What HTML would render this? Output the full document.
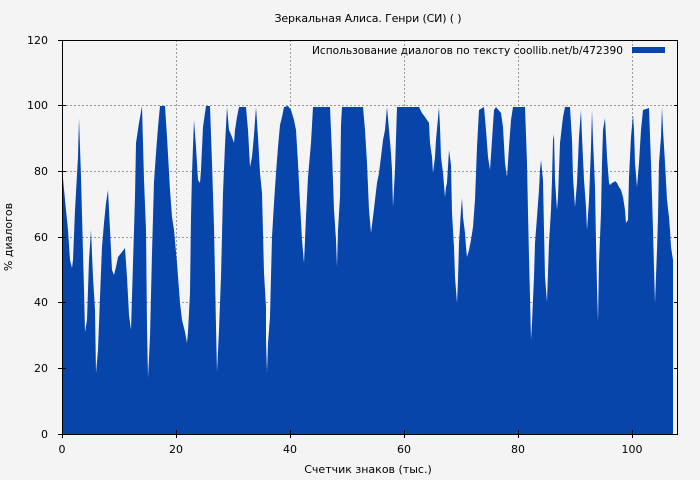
<!DOCTYPE html>
<html><head><meta charset="utf-8"><style>
body{margin:0;background:#f4f4f4;}
svg{display:block;font-family:"DejaVu Sans","Liberation Sans",sans-serif;}
</style></head><body>
<svg width="700" height="480" viewBox="0 0 700 480" xmlns="http://www.w3.org/2000/svg">
<rect width="700" height="480" fill="#f4f4f4"/>
<text x="368" y="22" font-size="11" text-anchor="middle" fill="#000" textLength="187">Зеркальная Алиса. Генри (СИ) ( )</text>
<g stroke="#999" stroke-dasharray="2,2" stroke-width="1">
<line x1="62" y1="105.5" x2="678" y2="105.5"/><line x1="62" y1="171.5" x2="678" y2="171.5"/>
<line x1="62" y1="237.5" x2="678" y2="237.5"/><line x1="62" y1="302.5" x2="678" y2="302.5"/>
<line x1="62" y1="368.5" x2="678" y2="368.5"/>
<line x1="176.5" y1="40" x2="176.5" y2="434"/><line x1="290.5" y1="40" x2="290.5" y2="434"/>
<line x1="404.5" y1="40" x2="404.5" y2="434"/><line x1="518.5" y1="40" x2="518.5" y2="434"/>
<line x1="632.5" y1="40" x2="632.5" y2="434"/>
</g>
<polygon fill="#0745ab" points="62,434 62,168 65,200 68,230 70,260 72,268 73,260 75,210 78,157 79,118 81,177 84,290 85,332 87,320 89,260 91,230 93,277 95,310 96,373 98,350 100,297 102,247 104,223 106,203 108,190 110,230 112,270 114,275 116,267 118,257 122,252 125,248 127,277 129,315 131,330 133,263 135,197 136,143 139,123 142,106 144,180 146,230 147,327 148,378 150,337 152,253 154,182 156,153 158,127 160,106 165,106 167,137 170,190 172,217 174,230 177,263 180,303 182,320 185,332 187,343 188,332 190,293 191,217 192,173 194,120 196,147 198,180 200,183 201,170 203,127 206,106 210,106 212,163 214,227 215,277 216,327 217,372 219,330 221,277 223,193 225,145 227,107 229,130 232,137 234,143 235,130 237,117 239,107 246,107 248,130 250,167 252,157 254,135 256,107 258,137 260,173 262,193 264,273 266,307 266,340 267,373 268,343 270,317 272,237 274,203 276,173 278,147 280,125 282,117 284,107 288,106 291,110 294,120 296,130 298,163 300,203 302,240 304,263 306,217 308,177 311,143 313,107 330,107 332,153 334,210 336,240 337,267 338,230 340,197 341,125 342,107 363,107 365,130 367,163 369,210 371,233 373,217 375,200 377,183 379,173 381,157 383,140 385,130 387,107 389,130 391,153 392,170 393,207 395,170 397,107 419,107 422,113 425,117 429,123 430,143 432,157 433,173 435,157 436,140 439,107 440,127 441,157 443,173 445,197 446,187 447,183 449,150 451,165 452,213 454,247 455,277 457,303 458,280 459,243 461,210 462,198 463,217 465,233 466,247 467,257 469,250 471,240 473,227 475,200 477,147 479,110 484,107 486,130 488,157 490,170 492,140 494,110 496,107 501,113 503,127 505,163 507,177 509,147 511,120 513,107 525,107 527,163 528,213 529,257 530,297 531,340 532,323 534,277 535,243 537,217 539,190 540,170 541,160 543,180 544,230 545,277 547,302 548,273 549,243 551,210 552,180 553,140 554,134 555,180 557,210 558,197 560,143 563,117 565,107 570,107 572,140 573,177 575,207 577,183 579,137 581,110 582,137 584,180 586,207 587,230 589,200 591,147 592,110 593,140 595,187 596,243 597,287 598,322 599,263 601,213 602,163 603,130 605,118 606,137 607,157 609,183 610,185 612,183 614,182 615,181 617,183 619,187 621,190 623,197 625,210 626,223 628,220 629,177 631,137 633,115 634,130 635,163 637,187 639,163 641,130 643,110 649,108 651,163 653,230 654,268 655,303 657,250 658,217 659,163 661,137 662,107 663,130 665,163 667,200 669,217 670,230 671,247 673,260 673,434"/>
<rect x="62.5" y="40.5" width="615" height="394" fill="none" stroke="#000" stroke-width="1"/>
<g stroke="#000" stroke-width="1">
<line x1="58" y1="40.5" x2="66" y2="40.5"/><line x1="58" y1="105.5" x2="66" y2="105.5"/><line x1="58" y1="171.5" x2="66" y2="171.5"/><line x1="58" y1="237.5" x2="66" y2="237.5"/><line x1="58" y1="302.5" x2="66" y2="302.5"/><line x1="58" y1="368.5" x2="66" y2="368.5"/><line x1="58" y1="434.5" x2="66" y2="434.5"/>
<line x1="62.5" y1="430" x2="62.5" y2="438"/><line x1="176.5" y1="430" x2="176.5" y2="438"/><line x1="290.5" y1="430" x2="290.5" y2="438"/><line x1="404.5" y1="430" x2="404.5" y2="438"/><line x1="518.5" y1="430" x2="518.5" y2="438"/><line x1="632.5" y1="430" x2="632.5" y2="438"/>
<line x1="674" y1="105.5" x2="678" y2="105.5"/><line x1="674" y1="171.5" x2="678" y2="171.5"/><line x1="674" y1="237.5" x2="678" y2="237.5"/><line x1="674" y1="302.5" x2="678" y2="302.5"/><line x1="674" y1="368.5" x2="678" y2="368.5"/>
</g>
<g font-size="11" fill="#000" text-anchor="end">
<text x="48" y="44">120</text><text x="48" y="109">100</text><text x="48" y="175">80</text><text x="48" y="241">60</text><text x="48" y="306">40</text><text x="48" y="372">20</text><text x="48" y="438">0</text>
</g>
<g font-size="11" fill="#000" text-anchor="middle">
<text x="62" y="453">0</text><text x="176" y="453">20</text><text x="290" y="453">40</text><text x="404" y="453">60</text><text x="518" y="453">80</text><text x="632" y="453">100</text>
<text x="368" y="473">Счетчик знаков (тыс.)</text>
</g>
<text x="12" y="237" font-size="11" text-anchor="middle" transform="rotate(-90 12 237)">% диалогов</text>
<text x="312" y="54" font-size="11" textLength="311" lengthAdjust="spacingAndGlyphs">Использование диалогов по тексту  coollib.net/b/472390</text>
<rect x="632" y="47" width="33" height="6" fill="#0745ab"/>
</svg>
</body></html>
